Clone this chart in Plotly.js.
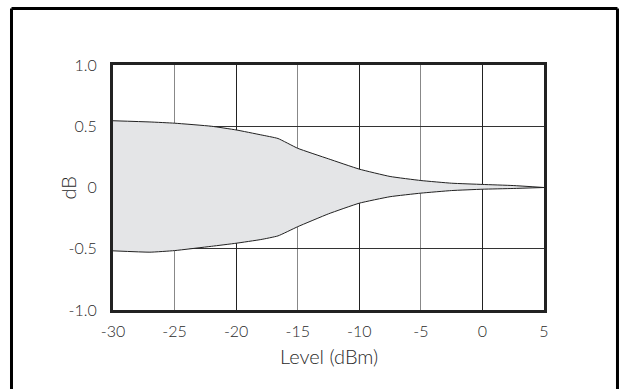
<!DOCTYPE html>
<html>
<head>
<meta charset="utf-8">
<script src="https://cdn.plot.ly/plotly-3.0.1.min.js"></script>
<style>html,body{margin:0;padding:0;background:#fff;}#chart{width:624px;height:389px;}</style>
</head>
<body>
<div id="chart"></div>
<script>
// Data
const levelDbm = [-30, -27, -25, -22, -20, -18, -16.6, -15, -12.5, -10, -7.5, -5, -2.5, 0, 2.5, 5];
const upperDb  = [0.545, 0.535, 0.525, 0.50, 0.47, 0.43, 0.40, 0.32, 0.234, 0.15, 0.09, 0.057, 0.035, 0.025, 0.016, 0];
const lowerDb  = [-0.517, -0.528, -0.515, -0.48, -0.455, -0.425, -0.395, -0.32, -0.215, -0.128, -0.075, -0.046, -0.025, -0.014, -0.008, 0];
const xTicks = [-30, -25, -20, -15, -10, -5, 0, 5];
const xTickText = ['-30', '-25', '-20', '-15', '-10', '-5', '0', '5'];
const xMajorGrid = [-20, -10, 0];
const yTicks = [-1, -0.5, 0, 0.5, 1];
const yTickText = ['-1.0', '-0.5', '0', '0.5', '1.0'];
const xTitle = 'Level (dBm)';
const yTitle = 'dB';

const FONT = 'Lato, "Open Sans", sans-serif';
const traces = [
  {x: levelDbm, y: upperDb, type: 'scatter', mode: 'lines',
   line: {color: '#222', width: 1, shape: 'spline', smoothing: 0.4}, hoverinfo: 'skip', showlegend: false},
  {x: levelDbm, y: lowerDb, type: 'scatter', mode: 'lines', fill: 'tonexty',
   fillcolor: '#e4e5e7', line: {color: '#222', width: 1, shape: 'spline', smoothing: 0.4}, hoverinfo: 'skip', showlegend: false}
];

const tickFont = {family: FONT, size: 16, color: '#2a2a2a', weight: 300};
const titleFont = {family: FONT, size: 20, color: '#2a2a2a', weight: 300};

const layout = {
  width: 624, height: 389,
  margin: {l: 113, r: 80, t: 65, b: 79},
  paper_bgcolor: '#fff', plot_bgcolor: '#fff',
  font: {family: FONT, size: 16, color: '#222'},
  showlegend: false,
  xaxis: {
    range: [-30, 5], tickvals: xTicks, ticktext: xTickText,
    showgrid: true, gridcolor: '#888', gridwidth: 1,
    zeroline: false, ticks: '', ticklen: 0, ticklabelstandoff: 5,
    showline: true, linecolor: '#222', linewidth: 3, mirror: true,
    tickfont: tickFont
  },
  xaxis2: {
    overlaying: 'x', range: [-30, 5], tickvals: xMajorGrid,
    showticklabels: false, showgrid: true, gridcolor: '#222', gridwidth: 1,
    zeroline: false, showline: false, ticks: ''
  },
  yaxis: {
    range: [-1, 1], tickvals: yTicks, ticktext: yTickText,
    showgrid: true, gridcolor: '#333', gridwidth: 1,
    zeroline: false, ticks: '', ticklen: 0, ticklabelstandoff: 10,
    showline: true, linecolor: '#222', linewidth: 3, mirror: true,
    tickfont: tickFont
  },
  annotations: [
    {text: xTitle, xref: 'paper', yref: 'paper', x: 0.5, y: -0.188, xanchor: 'center', yanchor: 'middle',
     showarrow: false, font: titleFont},
    {text: yTitle, xref: 'paper', yref: 'paper', x: -0.1067, y: 0.5, xanchor: 'center', yanchor: 'middle',
     textangle: -90, showarrow: false, font: titleFont}
  ],
  shapes: [
    {type: 'line', xref: 'paper', yref: 'paper', x0: -0.2355, x1: -0.2355, y0: -0.5, y1: 1.2306, line: {color: '#000', width: 3}},
    {type: 'line', xref: 'paper', yref: 'paper', x0: -0.2355, x1: 1.1705, y0: 1.2306, y1: 1.2306, line: {color: '#000', width: 3}},
    {type: 'line', xref: 'paper', yref: 'paper', x0: 1.1705, x1: 1.1705, y0: 1.2306, y1: -0.5, line: {color: '#000', width: 3}}
  ]
};

// invisible trace to activate the overlay axis for darker gridlines
traces.push({x: [levelDbm[0]], y: [upperDb[0]], xaxis: 'x2', type: 'scatter', mode: 'markers',
  marker: {opacity: 0}, hoverinfo: 'skip', showlegend: false});

Plotly.newPlot('chart', traces, layout, {staticPlot: true, displayModeBar: false});
</script>
</body>
</html>
